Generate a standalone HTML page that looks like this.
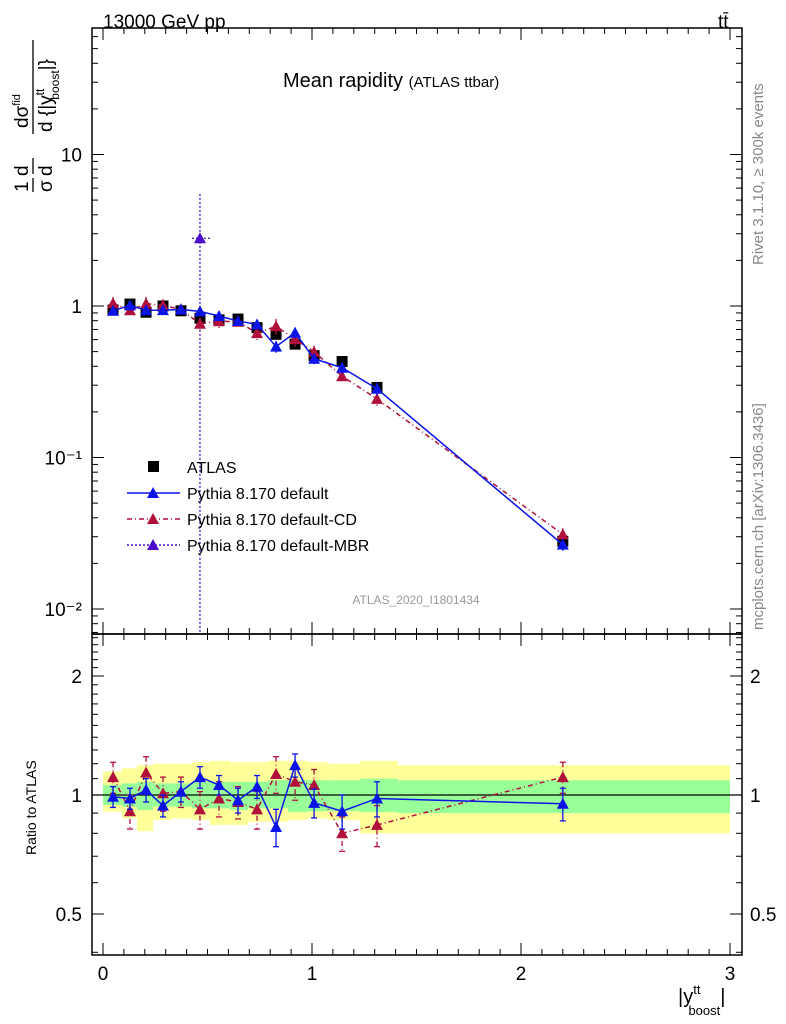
<!DOCTYPE html>
<html><head><meta charset="utf-8">
<style>
html,body{margin:0;padding:0;background:#fff;}
svg{display:block;font-family:"Liberation Sans",sans-serif;}
</style></head>
<body>
<svg id="chart" width="786" height="1024" xmlns="http://www.w3.org/2000/svg">
<text x="103" y="28" font-size="19">13000 GeV pp</text>
<text x="718" y="28" font-size="19">tt̄</text>
<text x="283" y="87" font-size="20">Mean rapidity <tspan font-size="15">(ATLAS ttbar)</tspan></text>
<text x="416" y="604" font-size="12" fill="#999" text-anchor="middle">ATLAS_2020_I1801434</text>
<text transform="translate(763,265) rotate(-90)" font-size="15" fill="#888">Rivet 3.1.10, ≥ 300k events</text>
<text transform="translate(763,630) rotate(-90)" font-size="15" fill="#888">mcplots.cern.ch [arXiv:1306.3436]</text>
<g>
<text transform="translate(28,192) rotate(-90)" font-size="19"><tspan x="0">1</tspan><tspan x="16">d</tspan><tspan x="64">dσ</tspan><tspan font-size="11" dy="-8">fid</tspan></text>
<text transform="translate(52,192) rotate(-90)" font-size="19"><tspan x="0">σ</tspan><tspan x="16">d</tspan><tspan x="60">d {|y</tspan><tspan font-size="12" dy="-8">tt</tspan><tspan font-size="12" dx="-11" dy="15">boost</tspan><tspan dy="-7">|}</tspan></text>
<line x1="33" x2="33" y1="178" y2="192" stroke="#000" stroke-width="1.3"/>
<line x1="33" x2="33" y1="158" y2="174" stroke="#000" stroke-width="1.3"/>
<line x1="33" x2="33" y1="40" y2="134" stroke="#000" stroke-width="1.3"/>
</g>
<text transform="translate(36,855) rotate(-90)" font-size="14">Ratio to ATLAS</text>
<text x="678" y="1003" font-size="20">|y<tspan font-size="13" dy="-9">tt</tspan><tspan font-size="13" dx="-12" dy="21">boost</tspan><tspan dy="-12">|</tspan></text>
<g id="plot"></g>
</svg>
<script>
const binEdges=[0,0.09,0.163,0.24,0.33,0.426,0.512,0.608,0.694,0.79,0.885,0.98,1.077,1.23,1.41,3.0];
const xCenters=[0.048,0.129,0.206,0.287,0.373,0.464,0.555,0.646,0.737,0.828,0.919,1.010,1.144,1.311,2.2];
const atlasVals=[0.94,1.03,0.91,1.0,0.93,0.83,0.81,0.82,0.72,0.65,0.56,0.47,0.43,0.29,0.028];
const greenHi=[1.06,1.07,1.08,1.07,1.07,1.08,1.08,1.08,1.08,1.09,1.09,1.09,1.09,1.10,1.09];
const greenLo=[0.943,0.934,0.916,0.934,0.934,0.925,0.925,0.916,0.925,0.925,0.905,0.91,0.91,0.905,0.9];
const yellowHi=[1.146,1.168,1.19,1.2,1.2,1.21,1.22,1.21,1.21,1.22,1.22,1.21,1.2,1.22,1.19];
const yellowLo=[0.907,0.873,0.81,0.865,0.873,0.865,0.84,0.84,0.856,0.856,0.865,0.873,0.865,0.80,0.80];
const defRatio=[0.99,0.98,1.03,0.94,1.02,1.11,1.06,0.97,1.05,0.83,1.19,0.955,0.91,0.98,0.95];
const defErr=[0.06,0.06,0.07,0.06,0.06,0.07,0.06,0.07,0.07,0.09,0.08,0.08,0.09,0.1,0.09];
const cdRatio=[1.11,0.91,1.14,1.01,1.02,0.92,0.98,0.96,0.92,1.13,1.08,1.06,0.80,0.84,1.11];
const cdErr=[0.1,0.09,0.11,0.1,0.09,0.1,0.1,0.09,0.1,0.12,0.11,0.1,0.08,0.1,0.1];
const mbrX=[0.464];const mbrVal=[2.8];const mbrHi=[5.5];
const xTicks=[0,1,2,3];
const yTicksMain=[0.01,0.1,1,10];
const yLabelsMain=["10\u207B\u00B2","10\u207B\u00B9","1","10"];
const rTicks=[0.5,1,2];const rLabels=["0.5","1","2"];

const L=92,R=742,T=28,M=634,B=955;
const X0=103,XS=209;
const sx=v=>X0+v*XS;
const sy=v=>306-Math.log10(v)*151.5;
const sr=v=>795-Math.log2(v)*119;
const NS="http://www.w3.org/2000/svg";
const g=document.getElementById('plot');
function el(t,a,p){const e=document.createElementNS(NS,t);for(const k in a)e.setAttribute(k,a[k]);(p||g).appendChild(e);return e;}
function tri(x,y,c,name){const e=el('polygon',{points:`${x},${y-6} ${x-6},${y+5} ${x+6},${y+5}`,fill:c});

return e;}

// ratio bands
for(let i=0;i<atlasVals.length;i++){
 const x1=sx(binEdges[i]),x2=sx(binEdges[i+1]);
 const y=el('rect',{x:x1,y:sr(yellowHi[i]),width:x2-x1,height:sr(yellowLo[i])-sr(yellowHi[i]),fill:'#ffff99'});
 
 
 const gr=el('rect',{x:x1,y:sr(greenHi[i]),width:x2-x1,height:sr(greenLo[i])-sr(greenHi[i]),fill:'#99ff99'});
 
 
}
el('line',{x1:L,x2:R,y1:sr(1),y2:sr(1),stroke:'#000','stroke-width':1.3});

// MBR line
const mv=el('line',{x1:sx(mbrX[0]),x2:sx(mbrX[0]),y1:sy(mbrHi[0]),y2:M,stroke:'#4b0acc','stroke-width':1.3,'stroke-dasharray':'2,2'});


el('line',{x1:sx(0.426),x2:sx(0.512),y1:sy(mbrVal[0]),y2:sy(mbrVal[0]),stroke:'#4b0acc','stroke-width':1.3,'stroke-dasharray':'2,2'});
tri(sx(mbrX[0]),sy(mbrVal[0]),'#4b0acc','mbr-point');

function series(ratio,err,color,dash,name){
 const mainPts=[],rPts=[];
 for(let i=0;i<ratio.length;i++){
  const x=sx(xCenters[i]),v=atlasVals[i]*ratio[i];
  mainPts.push(`${x},${sy(v)}`);rPts.push(`${x},${sr(ratio[i])}`);
 }
 const pl=el('polyline',{points:mainPts.join(' '),fill:'none',stroke:color,'stroke-width':1.5,'stroke-dasharray':dash});
 
 
 const pr=el('polyline',{points:rPts.join(' '),fill:'none',stroke:color,'stroke-width':1.5,'stroke-dasharray':dash});
 
 
 for(let i=0;i<ratio.length;i++){
  const x=sx(xCenters[i]),v=atlasVals[i]*ratio[i];
  el('line',{x1:x,x2:x,y1:sy(v*(1+err[i])),y2:sy(v*(1-err[i])),stroke:color,'stroke-width':1.3,'stroke-dasharray':dash});
  el('line',{x1:x,x2:x,y1:sr(ratio[i]+err[i]),y2:sr(ratio[i]-err[i]),stroke:color,'stroke-width':1.3,'stroke-dasharray':dash});
  [sr(ratio[i]+err[i]),sr(ratio[i]-err[i])].forEach(yy=>el('line',{x1:x-3,x2:x+3,y1:yy,y2:yy,stroke:color,'stroke-width':1.3}));
  tri(x,sy(v),color,name+'-point');
  tri(x,sr(ratio[i]),color,name+'-ratio-point');
 }
}
for(let i=0;i<atlasVals.length;i++){
 const r=el('rect',{x:sx(xCenters[i])-5.5,y:sy(atlasVals[i])-5.5,width:11,height:11,fill:'#000'});
 
 
}
series(cdRatio,cdErr,'#b0103a','5,3,1,3','pythia-default-cd');
series(defRatio,defErr,'#0a14e6','none','pythia-default');

[[T,M],[M,B]].forEach(([a,b])=>el('rect',{x:L,y:a,width:R-L,height:b-a,fill:'none',stroke:'#000','stroke-width':1.5}));
for(let k=0;k<=30;k++){
 const v=k/10,x=sx(v);if(x<L||x>R)continue;
 const major=k%10===0,len=major?12:6;
 [[T,1],[M,-1],[M,1],[B,-1]].forEach(([y,d])=>el('line',{x1:x,x2:x,y1:y,y2:y+d*len,stroke:'#000','stroke-width':1}));
}
xTicks.forEach(v=>{const t=el('text',{x:sx(v),y:980,'font-size':19,'text-anchor':'middle'});t.textContent=v;

});
for(let d=-3;d<=1;d++)for(let m=1;m<=9;m++){
 const v=m*Math.pow(10,d),y=sy(v);if(y<T||y>M)continue;
 const len=m===1?12:6;
 el('line',{x1:L,x2:L+len,y1:y,y2:y,stroke:'#000'});el('line',{x1:R,x2:R-len,y1:y,y2:y,stroke:'#000'});
}
yTicksMain.forEach((v,i)=>{const t=el('text',{x:82,y:sy(v)+7,'font-size':19,'text-anchor':'end'});t.textContent=yLabelsMain[i];

});
for(let k=4;k<=25;k++){
 const v=k/10,y=sr(v);if(y<M||y>B)continue;
 const major=(k===5||k===10||k===20),len=major?12:6;
 el('line',{x1:L,x2:L+len,y1:y,y2:y,stroke:'#000'});el('line',{x1:R,x2:R-len,y1:y,y2:y,stroke:'#000'});
}
rTicks.forEach((v,i)=>{[[82,'end'],[750,'start']].forEach(([x,a])=>{const t=el('text',{x:x,y:sr(v)+7,'font-size':19,'text-anchor':a});t.textContent=rLabels[i];

});});

const legNames=["ATLAS","Pythia 8.170 default","Pythia 8.170 default-CD","Pythia 8.170 default-MBR"];
const legCols=["#000","#0a14e6","#b0103a","#4b0acc"];
const legDash=["none","none","5,3,1,3","2,2"];
legNames.forEach((n,i)=>{
 const y=467+i*26;
 if(i===0){el('rect',{x:148,y:y-6,width:11,height:11,fill:'#000'});}
 else{el('line',{x1:127,x2:180,y1:y,y2:y,stroke:legCols[i],'stroke-width':1.5,'stroke-dasharray':legDash[i]});tri(153,y,legCols[i],'legend-marker');}
 const t=el('text',{x:187,y:y+6,'font-size':16});t.textContent=n;
 
 
});
</script>
</body></html>
